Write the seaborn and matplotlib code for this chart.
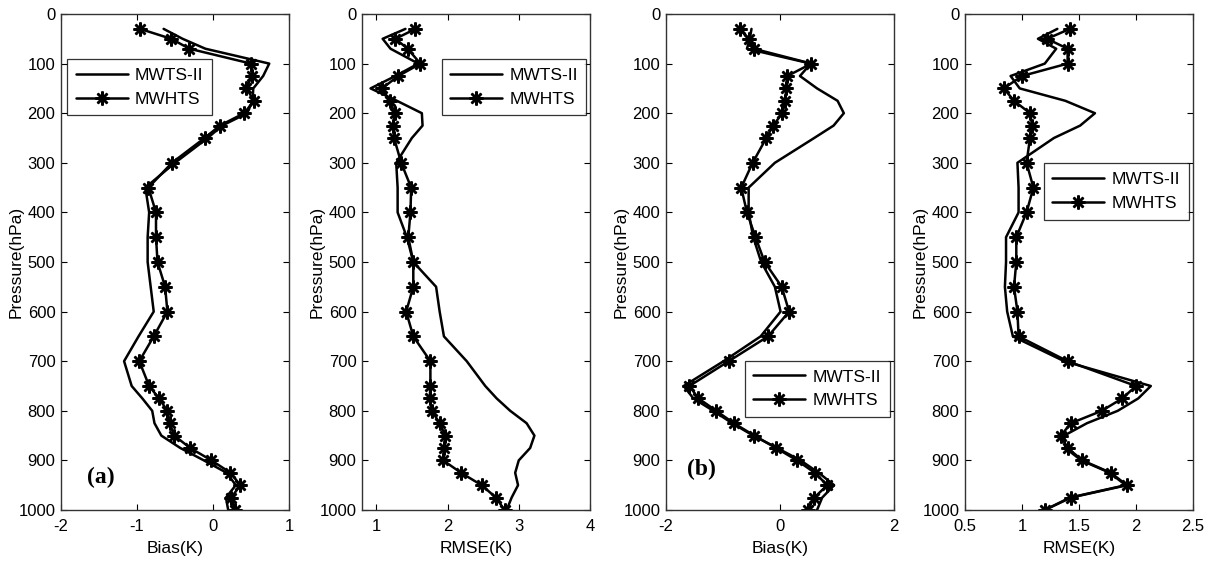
import numpy as np
import pandas as pd
import matplotlib
matplotlib.use("Agg")
import matplotlib.pyplot as plt
import seaborn as sns

# ---------------- data ----------------
pressure = [30, 50, 70, 100, 125, 150, 175, 200, 225, 250, 300, 350, 400, 450, 500,
            550, 600, 650, 700, 750, 775, 800, 825, 850, 875, 900, 925, 950, 975, 1000]

# (a) bias
bias_a_mwts = [-0.65, -0.40, -0.10, 0.74, 0.66, 0.53, 0.52, 0.45, 0.12, -0.07, -0.50, -0.89,
               -0.84, -0.86, -0.86, -0.82, -0.78, -0.98, -1.17, -1.07, -0.93, -0.80, -0.77,
               -0.68, -0.43, -0.12, 0.18, 0.30, 0.17, 0.20]
bias_a_mwhts = [-0.96, -0.55, -0.31, 0.50, 0.51, 0.44, 0.54, 0.41, 0.09, -0.11, -0.54, -0.85,
                -0.75, -0.75, -0.73, -0.63, -0.60, -0.78, -0.97, -0.84, -0.71, -0.60, -0.57,
                -0.51, -0.30, -0.02, 0.23, 0.36, 0.24, 0.29]
# (a) rmse
rmse_a_mwts = [1.41, 1.09, 1.20, 1.59, 1.27, 0.92, 1.29, 1.64, 1.65, 1.50, 1.28, 1.30,
               1.30, 1.43, 1.52, 1.84, 1.89, 1.95, 2.27, 2.53, 2.69, 2.88, 3.11, 3.22,
               3.16, 3.00, 2.95, 2.99, 2.90, 2.83]
rmse_a_mwhts = [1.55, 1.27, 1.44, 1.62, 1.31, 1.08, 1.19, 1.26, 1.24, 1.25, 1.35, 1.49,
                1.48, 1.45, 1.52, 1.52, 1.42, 1.52, 1.76, 1.76, 1.75, 1.78, 1.89, 1.97,
                1.95, 1.94, 2.19, 2.48, 2.68, 2.80]
# (b) bias
bias_b_mwts = [-0.50, -0.53, -0.58, 0.54, 0.35, 0.65, 1.01, 1.12, 0.94, 0.60, -0.09, -0.55,
               -0.55, -0.47, -0.33, -0.09, 0.01, -0.34, -0.99, -1.69, -1.52, -1.17, -0.84,
               -0.47, -0.05, 0.36, 0.68, 0.95, 0.74, 0.65]
bias_b_mwhts = [-0.71, -0.55, -0.46, 0.55, 0.13, 0.11, 0.09, 0.04, -0.12, -0.24, -0.48, -0.68,
                -0.58, -0.43, -0.27, 0.03, 0.16, -0.21, -0.90, -1.59, -1.43, -1.12, -0.81,
                -0.45, -0.07, 0.30, 0.61, 0.83, 0.60, 0.49]
# (b) rmse
rmse_b_mwts = [1.31, 1.14, 1.30, 1.20, 0.90, 0.98, 1.38, 1.64, 1.51, 1.28, 0.96, 0.97,
               0.97, 0.86, 0.86, 0.85, 0.87, 0.92, 1.37, 2.13, 2.02, 1.84, 1.57, 1.37,
               1.38, 1.52, 1.77, 1.91, 1.42, 1.20]
rmse_b_mwhts = [1.42, 1.22, 1.40, 1.40, 1.00, 0.84, 0.93, 1.07, 1.09, 1.07, 1.04, 1.10,
                1.04, 0.95, 0.95, 0.93, 0.96, 0.97, 1.40, 2.00, 1.88, 1.70, 1.43, 1.34,
                1.40, 1.53, 1.78, 1.92, 1.43, 1.20]

series_names = ["MWTS-II", "MWHTS"]
xlabels = ["Bias(K)", "RMSE(K)", "Bias(K)", "RMSE(K)"]
ylabel = "Pressure(hPa)"
xlims = [(-2, 1), (0.8, 4), (-2, 2), (0.5, 2.5)]
xticks = [[-2, -1, 0, 1], [1, 2, 3, 4], [-2, 0, 2], [0.5, 1, 1.5, 2, 2.5]]
xticklabels = [["-2", "-1", "0", "1"], ["1", "2", "3", "4"], ["-2", "0", "2"],
               ["0.5", "1", "1.5", "2", "2.5"]]
yticks = [0, 100, 200, 300, 400, 500, 600, 700, 800, 900, 1000]
panel_labels = ["(a)", None, "(b)", None]

# ---------------- style ----------------
sns.set_theme(style="white")
plt.rcParams["font.family"] = ["Liberation Sans", "DejaVu Sans"]
plt.rcParams["xtick.direction"] = "in"
plt.rcParams["ytick.direction"] = "in"
plt.rcParams["text.color"] = "black"
plt.rcParams["axes.labelcolor"] = "black"
plt.rcParams["xtick.color"] = "black"
plt.rcParams["ytick.color"] = "black"

W, H = 1211, 564
fig = plt.figure(figsize=(W / 100, H / 100), dpi=100)

lefts = [61, 362, 666, 965]
axw = 228
top, bottom = 14, 510
leg_pos = [(0.026, 0.909), (0.349, 0.909), (0.345, 0.301), (0.345, 0.699)]
label_pos = [(0.115, 0.065), None, (0.09, 0.082), None]

pairs = [(bias_a_mwts, bias_a_mwhts), (rmse_a_mwts, rmse_a_mwhts),
         (bias_b_mwts, bias_b_mwhts), (rmse_b_mwts, rmse_b_mwhts)]

for i, (s1, s2) in enumerate(pairs):
    ax = fig.add_axes([lefts[i] / W, 1 - bottom / H, axw / W, (bottom - top) / H])
    df = pd.DataFrame({
        "value": list(s1) + list(s2),
        "pressure": pressure + pressure,
        "series": [series_names[0]] * len(s1) + [series_names[1]] * len(s2),
    })
    sns.lineplot(data=df[df.series == series_names[0]], x="value", y="pressure",
                 sort=False, estimator=None, color="black", lw=1.8, ax=ax,
                 label=series_names[0])
    sns.lineplot(data=df[df.series == series_names[1]], x="value", y="pressure",
                 sort=False, estimator=None, color="black", lw=1.8, ax=ax,
                 marker=(8, 2, 0), markersize=10, markeredgewidth=1.8,
                 markeredgecolor="black", label=series_names[1])
    ax.set_xlim(*xlims[i])
    ax.set_ylim(1000, 0)
    ax.set_xticks(xticks[i])
    ax.set_xticklabels(xticklabels[i])
    ax.set_yticks(yticks)
    ax.set_yticklabels([str(v) for v in yticks])
    ax.tick_params(axis="both", which="both", direction="in", length=4, width=0.8,
                   top=True, right=True, bottom=True, left=True,
                   labelsize=12, colors="black")
    ax.tick_params(axis="x", pad=6.5)
    ax.tick_params(axis="y", pad=4)
    for sp in ax.spines.values():
        sp.set_color("#333333")
        sp.set_linewidth(1.0)
    ax.set_xlabel(xlabels[i], fontsize=12.5, labelpad=5, color="black")
    ax.set_ylabel(ylabel, fontsize=12.5, labelpad=-4, color="black")
    leg = ax.legend(loc="upper left", bbox_to_anchor=leg_pos[i], borderaxespad=0,
                    fontsize=12.5, frameon=True, fancybox=False, handlelength=3.0,
                    handletextpad=0.4, borderpad=0.5, labelspacing=0.5)
    leg.get_frame().set_edgecolor("black")
    leg.get_frame().set_linewidth(0.9)
    for t in leg.get_texts():
        t.set_color("black")
    if panel_labels[i]:
        ax.text(label_pos[i][0], label_pos[i][1], panel_labels[i], transform=ax.transAxes,
                fontsize=17, fontweight="bold", family="Liberation Serif",
                ha="left", va="center", color="black")

fig.savefig("out.png", dpi=100, facecolor="white")
